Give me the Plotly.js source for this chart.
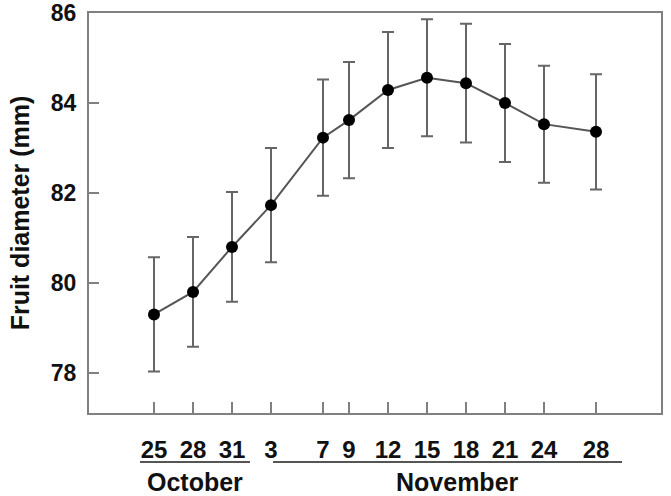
<!DOCTYPE html>
<html>
<head>
<meta charset="utf-8">
<script src="https://cdn.plot.ly/plotly-3.0.1.min.js"></script>
<style>html,body{margin:0;padding:0;background:#fff;}#chart{width:671px;height:496px;}</style>
</head>
<body>
<div id="chart"></div>
<script>
// Sampling dates (year arbitrary)
const sampleDates = ['2000-10-25','2000-10-28','2000-10-31','2000-11-03','2000-11-07','2000-11-09',
                     '2000-11-12','2000-11-15','2000-11-18','2000-11-21','2000-11-24','2000-11-28'];
const dayLabels = ['25','28','31','3','7','9','12','15','18','21','24','28'];
// Fruit diameter (mm), mean and error
const fruitDiameter = [79.30, 79.80, 80.80, 81.73, 83.23, 83.62, 84.29, 84.56, 84.44, 84.00, 83.53, 83.36];
const diameterError = [1.27, 1.22, 1.22, 1.27, 1.29, 1.29, 1.29, 1.30, 1.32, 1.31, 1.30, 1.28];
const yTicks = [78, 80, 82, 84, 86];
const monthLabels = ['October', 'November'];

const FONT = 'Liberation Sans, Arial, Helvetica, sans-serif';

const trace = {
  x: sampleDates,
  y: fruitDiameter,
  type: 'scatter',
  mode: 'lines+markers',
  line: {color: '#555555', width: 2},
  marker: {color: '#000000', size: 12},
  error_y: {type: 'data', array: diameterError, visible: true, color: '#666666', thickness: 2, width: 6},
  hoverinfo: 'x+y'
};

const layout = {
  width: 671, height: 496,
  margin: {l: 89, r: 10, t: 13, b: 83},
  paper_bgcolor: '#ffffff', plot_bgcolor: '#ffffff',
  showlegend: false,
  font: {family: FONT, color: '#111111'},
  xaxis: {
    type: 'date',
    range: ['2000-10-20', '2000-12-03'],
    tickmode: 'array', tickvals: sampleDates, ticktext: dayLabels,
    ticks: 'inside', ticklen: 11, tickwidth: 2, tickcolor: '#808080',
    showline: true, linecolor: '#808080', linewidth: 2, mirror: true,
    showgrid: false, zeroline: false,
    tickfont: {family: FONT, size: 24, color: '#111111', weight: 'bold'},
    ticklabelstandoff: 14
  },
  yaxis: {
    range: [77.11, 86],
    tickmode: 'array', tickvals: yTicks, ticktext: yTicks.map(String),
    ticks: 'inside', ticklen: 10, tickwidth: 2, tickcolor: '#808080',
    showline: true, linecolor: '#808080', linewidth: 2, mirror: true,
    showgrid: false, zeroline: false,
    tickfont: {family: FONT, size: 23, color: '#111111', weight: 'bold'},
    ticklabelstandoff: 6,
    title: {text: 'Fruit diameter (mm)', font: {family: FONT, size: 25, color: '#111111', weight: 'bold'}, standoff: 14}
  },
  shapes: [
    {type: 'line', xref: 'paper', yref: 'paper', x0: 0.0892, x1: 0.2815, y0: -0.1225, y1: -0.1225, line: {color: '#555555', width: 2}},
    {type: 'line', xref: 'paper', yref: 'paper', x0: 0.3217, x1: 0.9318, y0: -0.1225, y1: -0.1225, line: {color: '#555555', width: 2}}
  ],
  annotations: [
    {text: monthLabels[0], xref: 'paper', yref: 'paper', x: 0.1853, y: -0.172, xanchor: 'center', yanchor: 'middle', showarrow: false,
     font: {family: FONT, size: 25, color: '#111111', weight: 'bold'}},
    {text: monthLabels[1], xref: 'paper', yref: 'paper', x: 0.6451, y: -0.172, xanchor: 'center', yanchor: 'middle', showarrow: false,
     font: {family: FONT, size: 25, color: '#111111', weight: 'bold'}}
  ]
};

Plotly.newPlot('chart', [trace], layout, {displayModeBar: false, staticPlot: true});
</script>
</body>
</html>
